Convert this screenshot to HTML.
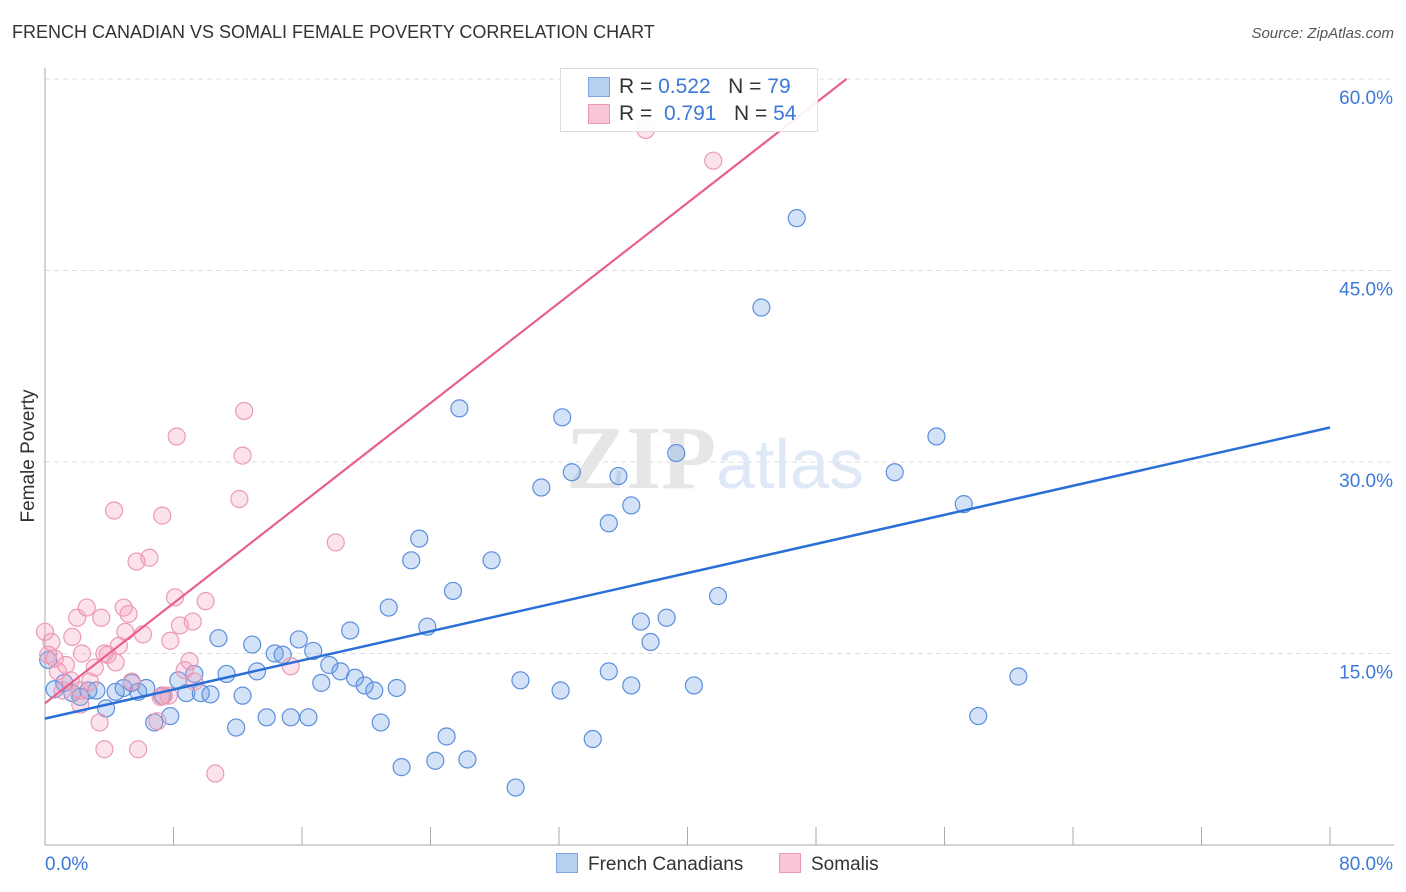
<!DOCTYPE html>
<html><head><meta charset="utf-8"><style>
body{margin:0;background:#fff;font-family:"Liberation Sans",sans-serif;}
#wrap{position:relative;width:1406px;height:892px;overflow:hidden;}
.t{position:absolute;white-space:nowrap;}
</style></head><body>
<div id="wrap">
<div class="t" style="left:12px;top:22px;font-size:18px;color:#333;">FRENCH CANADIAN VS SOMALI FEMALE POVERTY CORRELATION CHART</div>
<div class="t" style="right:12px;top:25px;font-size:15px;color:#555;font-style:italic;">Source: ZipAtlas.com</div>
<svg id="plot" width="1406" height="892" style="position:absolute;left:0;top:0"></svg>
<div class="t" style="left:560px;top:68px;width:256px;height:62px;border:1px solid #ddd;background:rgba(255,255,255,0.9);font-size:21px;">
 <div style="position:absolute;left:27px;top:8px;width:20px;height:18px;background:#b8d1f3;border:1px solid #7da6e3"></div>
 <div class="t" style="left:58px;top:6px;color:#333">R = <span style="color:#3c78d8">0.522</span>&nbsp;&nbsp;&nbsp;N = <span style="color:#3c78d8">79</span></div>
 <div style="position:absolute;left:27px;top:35px;width:20px;height:18px;background:#f8c6d5;border:1px solid #eb9ab5"></div>
 <div class="t" style="left:58px;top:33px;color:#333">R = &nbsp;<span style="color:#3c78d8">0.791</span>&nbsp;&nbsp;&nbsp;N = <span style="color:#3c78d8">54</span></div>
</div>
<div class="t" style="left:556px;top:853px;font-size:19px;color:#333"><span style="display:inline-block;width:20px;height:18px;background:#b8d1f3;border:1px solid #7da6e3;vertical-align:-3px;margin-right:10px"></span>French Canadians</div>
<div class="t" style="left:779px;top:853px;font-size:19px;color:#333"><span style="display:inline-block;width:20px;height:18px;background:#f8c6d5;border:1px solid #eb9ab5;vertical-align:-3px;margin-right:10px"></span>Somalis</div>
</div>
<script>
const blueX=[0.6,1.2,1.7,2.2,2.7,3.2,3.8,4.4,4.9,5.4,5.8,6.3,6.8,7.3,7.8,8.3,8.8,9.3,9.7,10.3,10.8,11.3,11.9,12.3,12.9,13.2,13.8,14.3,14.8,15.3,15.8,16.4,16.7,17.2,17.7,18.4,19.0,19.3,19.9,20.5,20.9,21.4,21.9,22.2,22.8,23.3,23.8,24.3,25.0,25.4,25.8,26.3,27.8,29.3,29.6,30.9,32.1,32.2,32.8,34.1,35.1,35.1,35.7,36.5,36.5,37.1,37.7,38.7,39.3,40.4,41.9,44.6,46.8,52.9,55.5,57.2,58.1,60.6,0.2];
const blueY=[12.2,12.7,11.9,11.6,12.1,12.1,10.7,12.0,12.3,12.7,12.0,12.3,9.6,11.7,10.1,12.9,11.9,13.4,11.9,11.8,16.2,13.4,9.2,11.7,15.7,13.6,10.0,15.0,14.9,10.0,16.1,10.0,15.2,12.7,14.1,13.6,16.8,13.1,12.5,12.1,9.6,18.6,12.3,6.1,22.3,24.0,17.1,6.6,8.5,19.9,34.2,6.7,22.3,4.5,12.9,28.0,12.1,33.5,29.2,8.3,25.2,13.6,28.9,26.6,12.5,17.5,15.9,17.8,30.7,12.5,19.5,42.1,49.1,29.2,32.0,26.7,10.1,13.2,14.5];
const pinkX=[0.0,0.4,0.6,0.8,1.1,1.3,1.6,1.7,2.0,2.2,2.3,2.6,2.8,3.1,3.4,3.5,3.7,3.9,4.3,4.4,4.6,4.9,5.0,5.2,5.4,5.7,5.8,6.1,6.5,7.0,7.3,7.4,7.7,7.8,8.1,8.2,8.4,8.7,9.0,9.2,9.3,10.0,10.6,12.1,12.3,12.4,15.3,18.1,37.4,41.6,0.2,7.2,3.7,2.2];
const pinkY=[16.7,15.9,14.6,13.6,12.1,14.1,12.9,16.3,17.8,11.0,15.0,18.6,12.8,13.9,9.6,17.8,7.5,14.9,26.2,14.3,15.6,18.6,16.7,18.1,12.8,22.2,7.5,16.5,22.5,9.7,25.8,11.7,11.7,16.0,19.4,32.0,17.2,13.7,14.4,17.5,12.8,19.1,5.6,27.1,30.5,34.0,14.0,23.7,56.0,53.6,14.9,11.6,15.0,12.1];
const blueTrendX=[0,80], blueTrendY=[9.9,32.7];
const pinkTrendX=[0,49.9], pinkTrendY=[11.1,60];
const yTicks=[15,30,45,60];
const yTickLabels=["15.0%","30.0%","45.0%","60.0%"];
const xTicks=[0,8,16,24,32,40,48,56,64,72,80];

const X0=45,X1=1330,Y0=845,Y1=79;
const sx=v=>X0+(v/80)*(X1-X0);
const sy=v=>Y0-(v/60)*(Y0-Y1);
const svg=document.getElementById('plot');
const NS='http://www.w3.org/2000/svg';
function mk(tag,attrs){const e=document.createElementNS(NS,tag);for(const k in attrs)e.setAttribute(k,attrs[k]);svg.appendChild(e);return e;}

yTicks.forEach((v,i)=>{
 const g=mk('line',{x1:X0,x2:1394,y1:sy(v),y2:sy(v),stroke:'#ddd','stroke-dasharray':'5,4'});
 
 
 const t=mk('text',{x:1393,y:sy(v)+25,'text-anchor':'end','font-size':19,fill:'#3c78d8','font-family':'Liberation Sans, sans-serif'});
 t.textContent=yTickLabels[i];
 
 
});
const ax=mk('line',{x1:X0,x2:X0,y1:68,y2:Y0,stroke:'#aaa'});


const bx=mk('line',{x1:X0,x2:1394,y1:Y0,y2:Y0,stroke:'#aaa'});


xTicks.forEach(v=>{
 const l=mk('line',{x1:sx(v),x2:sx(v),y1:Y0-18,y2:Y0,stroke:'#aaa'});
 
 
});
const xl=mk('text',{x:45,y:870,'font-size':19,fill:'#3c78d8','font-family':'Liberation Sans, sans-serif'});xl.textContent='0.0%';


const xr=mk('text',{x:1393,y:870,'text-anchor':'end','font-size':19,fill:'#3c78d8','font-family':'Liberation Sans, sans-serif'});xr.textContent='80.0%';


const yt=mk('text',{x:34,y:456,'text-anchor':'middle','font-size':19,fill:'#333',transform:'rotate(-90 34 456)','font-family':'Liberation Sans, sans-serif'});yt.textContent='Female Poverty';


const wm=mk('text',{x:715,y:488,'text-anchor':'middle','font-size':90,fill:'#e6e6e6','font-family':'Liberation Serif, serif'});
wm.innerHTML='<tspan font-weight="bold">ZIP</tspan><tspan fill="#dfe8f6" font-family="Liberation Sans, sans-serif" font-size="70">atlas</tspan>';



blueX.forEach((v,i)=>{
 const c=mk('circle',{cx:sx(v),cy:sy(blueY[i]),r:8.5,fill:'rgba(110,160,230,0.3)',stroke:'#5b8fdc','stroke-width':1.2});
 
 
});
pinkX.forEach((v,i)=>{
 const c=mk('circle',{cx:sx(v),cy:sy(pinkY[i]),r:8.5,fill:'rgba(245,160,190,0.3)',stroke:'#eb9ab5','stroke-width':1.2});
 
 
});
const bl=mk('line',{x1:sx(blueTrendX[0]),y1:sy(blueTrendY[0]),x2:sx(blueTrendX[1]),y2:sy(blueTrendY[1]),stroke:'#2a6fd6','stroke-width':2.5});


const pl=mk('line',{x1:sx(pinkTrendX[0]),y1:sy(pinkTrendY[0]),x2:sx(pinkTrendX[1]),y2:sy(pinkTrendY[1]),stroke:'#e8608a','stroke-width':2.2});


</script>
</body></html>
